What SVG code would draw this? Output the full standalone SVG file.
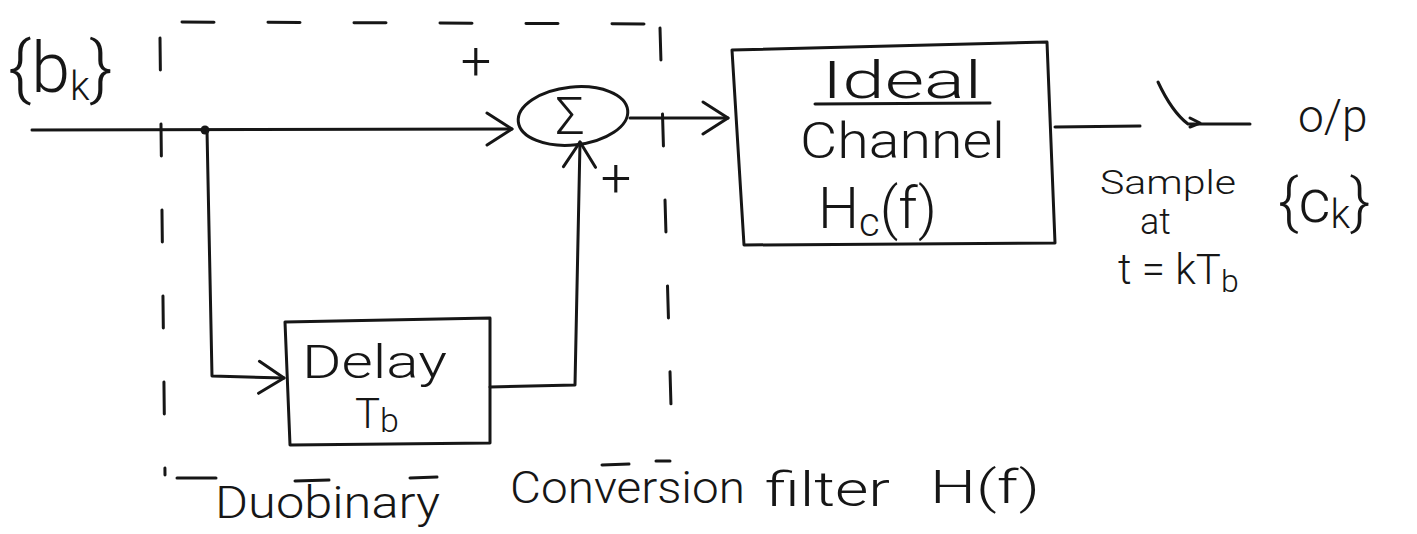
<svg xmlns="http://www.w3.org/2000/svg" width="1417" height="534" viewBox="0 0 1417 534">
  <style>
    .ln { fill: none; stroke: #161616; stroke-width: 3; stroke-linecap: round; stroke-linejoin: round; }
    .dash { fill: none; stroke: #161616; stroke-width: 3; stroke-linecap: round; stroke-dasharray: 32 54; }
    .box { fill: none; stroke: #161616; stroke-width: 3; stroke-linejoin: round; }
    .t { font-family: Roboto, "Liberation Sans", "DejaVu Sans", sans-serif; font-weight: 300; fill: #161616; }
  </style>
  <defs>
    <marker id="arr" viewBox="0 0 30 36" refX="28" refY="18" markerWidth="30" markerHeight="36" markerUnits="userSpaceOnUse" orient="auto">
      <path d="M3,2 L28,18 L3,34" fill="none" stroke="#161616" stroke-width="3" stroke-linecap="round" stroke-linejoin="round"/>
    </marker>
  </defs>
  <rect width="1417" height="534" fill="#ffffff"/>

  <!-- duobinary conversion filter boundary -->
  <g id="filter-boundary">
    <path class="dash" d="M182,22 L655,24"/>
    <path class="dash" d="M160,38 L165,475"/>
    <path class="dash" d="M660,28 L672,440"/>
    <path class="ln" d="M177,478 L216,478"/>
    <path class="ln" d="M295,481 L329,480"/>
    <path class="ln" d="M410,478 L437,477"/>
    <path class="ln" d="M602,465 L629,464"/>
    <path class="ln" d="M656,461 L670,461"/>
    <text class="t" x="215" y="518" font-size="44" textLength="225" lengthAdjust="spacingAndGlyphs">Duobinary</text>
    <text class="t" x="510" y="503" font-size="44" textLength="235" lengthAdjust="spacingAndGlyphs">Conversion</text>
    <text class="t" x="765" y="506" font-size="48" textLength="125" lengthAdjust="spacingAndGlyphs">filter</text>
    <text class="t" x="930" y="503" font-size="46" textLength="110" lengthAdjust="spacingAndGlyphs">H(f)</text>
  </g>

  <!-- input sequence -->
  <g id="input">
    <text class="t" x="8" y="92" font-size="70">{b<tspan font-size="40" dy="8">k</tspan><tspan dy="-8">}</tspan></text>
  </g>

  <!-- summing junction -->
  <g id="sum">
    <ellipse class="box" cx="573" cy="116" rx="55" ry="29" transform="rotate(-6 573 116)"/>
    <text class="t" x="570" y="134" font-size="52" text-anchor="middle">Σ</text>
    <text class="t" x="476" y="80" font-size="54" text-anchor="middle">+</text>
    <text class="t" x="616" y="197" font-size="54" text-anchor="middle">+</text>
  </g>

  <!-- delay element -->
  <g id="delay">
    <path class="box" d="M285,322 L490,318 L490,443 L290,445 Z"/>
    <text class="t" x="302" y="378" font-size="46" textLength="145" lengthAdjust="spacingAndGlyphs">Delay</text>
    <text class="t" x="355" y="428" font-size="42">T<tspan font-size="34" dy="4">b</tspan></text>
  </g>

  <!-- channel -->
  <g id="channel">
    <path class="box" d="M732,50 L1047,42 L1055,243 L744,245 Z"/>
    <text class="t" x="822" y="98" font-size="52" textLength="160" lengthAdjust="spacingAndGlyphs">Ideal</text>
    <path class="ln" d="M815,104 L990,103"/>
    <text class="t" x="800" y="158" font-size="50" textLength="205" lengthAdjust="spacingAndGlyphs">Channel</text>
    <text class="t" x="818" y="228" font-size="58">H<tspan font-size="40" dy="8">c</tspan><tspan dy="-8">(f)</tspan></text>
  </g>

  <!-- sampler and output labels -->
  <g id="sampler">
    <path class="ln" d="M1158,82 Q1172,112 1188,124 L1250,124"/>
    <path class="ln" d="M1190,118 L1200,123 L1190,127"/>
    <text class="t" x="1100" y="194" font-size="34" textLength="136" lengthAdjust="spacingAndGlyphs">Sample</text>
    <text class="t" x="1140" y="234" font-size="36">at</text>
    <text class="t" x="1118" y="284" font-size="42">t = kT<tspan font-size="32" dy="8">b</tspan></text>
  </g>

  <g id="output">
    <text class="t" x="1298" y="132" font-size="46">o/p</text>
    <text class="t" x="1278" y="222" font-size="62">{c<tspan font-size="40" dy="6">k</tspan><tspan dy="-6">}</tspan></text>
  </g>

  <!-- signal paths -->
  <g id="connectors">
    <path class="ln" d="M32,130 L512,129" marker-end="url(#arr)"/>
    <circle cx="205" cy="130" r="4.5" fill="#161616"/>
    <path class="ln" d="M207,130 L212,376 L284,378" marker-end="url(#arr)"/>
    <path class="ln" d="M490,387 L575,385 L580,142" marker-end="url(#arr)"/>
    <path class="ln" d="M630,118 L728,118" marker-end="url(#arr)"/>
    <path class="ln" d="M1055,127 L1140,126"/>
  </g>
</svg>
